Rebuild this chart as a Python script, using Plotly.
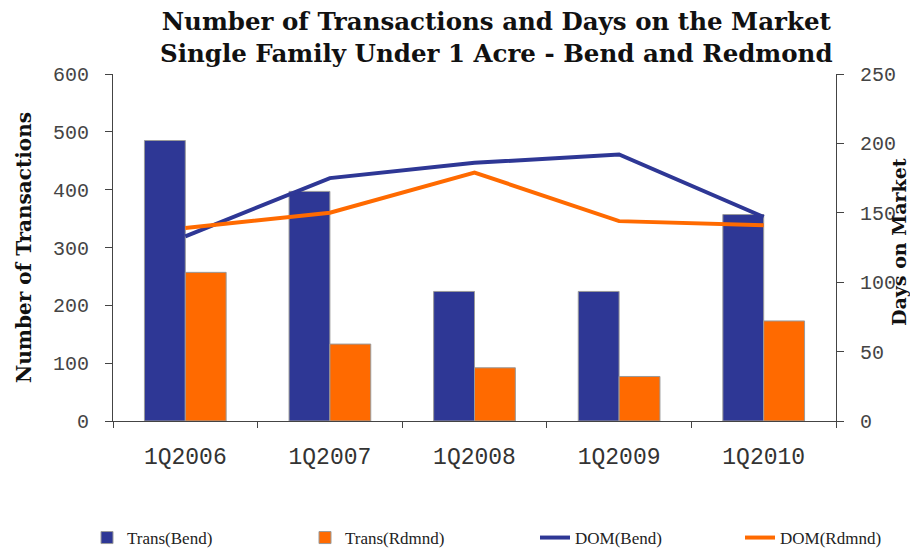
import plotly.graph_objects as go

categories = ["1Q2006", "1Q2007", "1Q2008", "1Q2009", "1Q2010"]
trans_bend = [485, 397, 224, 224, 357]
trans_rdmnd = [257, 133, 92, 77, 173]
dom_bend = [133, 175, 186, 192, 147]
dom_rdmnd = [139, 150, 179, 144, 141]

BLUE = "#2E3795"
ORANGE = "#FF6A00"

# page body has an 8px margin, so the figure is 8px smaller than the window
W, H, OFF = 910, 540, 8

fig = go.Figure()
fig.add_trace(go.Bar(x=categories, y=trans_bend, name="Trans(Bend)", legend="legend",
                     marker=dict(color=BLUE, line=dict(color="#9a9a9a", width=1))))
fig.add_trace(go.Bar(x=categories, y=trans_rdmnd, name="Trans(Rdmnd)", legend="legend2",
                     marker=dict(color=ORANGE, line=dict(color="#9a9a9a", width=1))))
fig.add_trace(go.Scatter(x=categories, y=dom_bend, name="DOM(Bend)", yaxis="y2", legend="legend3",
                         mode="lines", line=dict(color=BLUE, width=4)))
fig.add_trace(go.Scatter(x=categories, y=dom_rdmnd, name="DOM(Rdmnd)", yaxis="y2", legend="legend4",
                         mode="lines", line=dict(color=ORANGE, width=4)))

tickfont = dict(family="Liberation Mono", size=20, color="#444444")
titlefont = dict(family="DejaVu Serif", size=20, color="#111111", weight="bold")
legfont = dict(family="Liberation Serif", size=17, color="#222222")


def leg(xpx):
    return dict(orientation="h", xref="container", yref="container",
                x=(xpx - OFF) / W, xanchor="left", y=10 / H, yanchor="middle",
                font=legfont, bgcolor="rgba(0,0,0,0)")


fig.update_layout(
    width=W, height=H,
    margin=dict(l=113 - OFF, r=82, t=74 - OFF, b=127),
    paper_bgcolor="white", plot_bgcolor="white",
    barmode="group", bargap=0.435, bargroupgap=0,
    xaxis=dict(
        type="category", showline=True, linecolor="#444444", linewidth=1,
        ticks="outside", ticklen=6, tickcolor="#444444", tickson="boundaries",
        tickfont=dict(family="Liberation Mono", size=23, color="#333333"),
        ticklabelstandoff=14, automargin=False,
        showgrid=False, zeroline=False,
    ),
    yaxis=dict(
        range=[0, 600], dtick=100, showline=True, linecolor="#444444", linewidth=1,
        ticks="outside", ticklen=7, tickcolor="#444444", ticklabelstandoff=12,
        tickfont=tickfont, showgrid=False, zeroline=False, automargin=False,
        title=dict(text="Number of Transactions", font=titlefont, standoff=15),
    ),
    yaxis2=dict(
        range=[0, 250], dtick=50, overlaying="y", side="right",
        showline=True, linecolor="#444444", linewidth=1,
        ticks="outside", ticklen=7, tickcolor="#444444",
        tickprefix="\u00a0",
        tickfont=tickfont, showgrid=False, zeroline=False, automargin=False,
    ),
    legend=leg(87),
    legend2=leg(305),
    legend3=leg(535),
    legend4=leg(740),
    showlegend=True,
    annotations=[
        dict(
            text="Number of Transactions and Days on the Market<br>Single Family Under 1 Acre - Bend and Redmond",
            xref="paper", yref="paper", x=0.53, y=1.106, xanchor="center", yanchor="middle",
            showarrow=False, align="center",
            font=dict(family="DejaVu Serif", size=24.5, color="#111111", weight="bold"),
        ),
        dict(
            text="Days on Market", textangle=-90,
            xref="paper", yref="paper", x=(899 - 113) / 723, y=(421 - 242) / 347,
            xanchor="center", yanchor="middle", showarrow=False,
            font=dict(family="DejaVu Serif", size=19, color="#111111", weight="bold"),
        ),
    ],
)

fig.write_html("out.html")
